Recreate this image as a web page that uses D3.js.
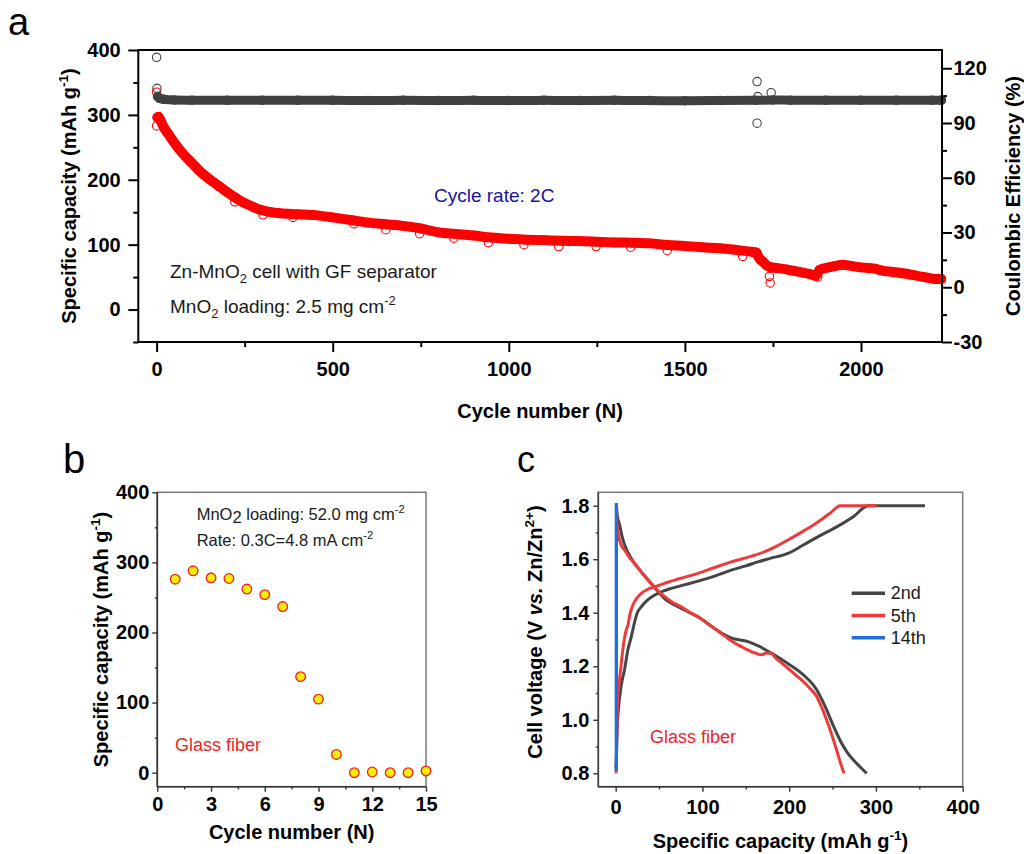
<!DOCTYPE html>
<html>
<head>
<meta charset="utf-8">
<title>Zn-MnO2 cell with GF separator</title>
<style>
body { margin: 0; background: #fff; }
svg text { font-family: "Liberation Sans", Arial, sans-serif; }
</style>
<script src="https://cdn.jsdelivr.net/npm/d3@7/dist/d3.min.js"></script>
</head>
<body>
<svg id="fig" width="1024" height="854"></svg>
<script>
// ---- panel a: long cycling at 2C ----
var capCycles = [2, 5, 10, 20, 30, 45, 60, 80, 100, 125, 150, 175, 200, 225, 250, 275, 300, 325, 350, 400, 450, 500, 550, 600, 650, 700, 750, 800, 850, 900, 950, 1000, 1050, 1100, 1150, 1200, 1250, 1300, 1350, 1400, 1450, 1500, 1550, 1600, 1650, 1690, 1702, 1710, 1721, 1730, 1740, 1760, 1787, 1810, 1834, 1855, 1872, 1882, 1900, 1925, 1948, 1975, 2000, 2024, 2040, 2060, 2090, 2118, 2150, 2180, 2213, 2228];
var capValues = [296, 297, 293, 281, 273, 261, 250, 237, 226, 212, 201, 191, 181, 172, 164, 158, 153, 150, 148.5, 147, 145.5, 142, 138, 134, 131.5, 129, 125, 119, 116.5, 114, 111, 109, 107.5, 107, 106, 105.5, 104.5, 103.5, 103, 102, 99.5, 98, 96, 94.5, 91.5, 89, 88, 80, 74, 69, 66, 64, 62, 59.5, 57, 54.5, 52, 61, 64, 67, 69, 67, 65, 64, 63, 60, 58, 56, 53, 50, 47, 47];
var capDipCycles = [0, 0, 222, 302, 387, 561, 651, 747, 844, 942, 1043, 1142, 1248, 1346, 1450, 1664, 1704, 1714, 1740, 1742, 1877, 2228];
var capDipValues = [283, 335, 166, 146, 142, 132, 123, 117, 110, 103, 100, 97, 97, 96, 91, 82, 88, 76, 51, 41, 50, 47];
var ceCycles = [3, 8, 20, 50, 100, 200, 300, 400, 500, 600, 700, 800, 900, 1000, 1100, 1200, 1300, 1400, 1500, 1600, 1700, 1750, 1800, 1900, 2000, 2100, 2200, 2228];
var ceValues = [104.5, 103.5, 103, 102.6, 102.5, 102.4, 102.5, 102.4, 102.4, 102.3, 102.4, 102.3, 102.4, 102.3, 102.4, 102.3, 102.4, 102.3, 102.2, 102.3, 102.4, 102.6, 102.5, 102.4, 102.5, 102.4, 102.5, 102.5];
var ceOddCycles = [0, 1, 1705, 1705, 1707, 1745, 2228];
var ceOddValues = [126, 109, 112.7, 89.9, 104.5, 106.6, 102.5];
var aXTicks = [0, 500, 1000, 1500, 2000];
var aXMinor = [250, 750, 1250, 1750];
var aYTicks = [0, 100, 200, 300, 400];
var aYMinor = [-50, 50, 150, 250, 350];
var aY2Ticks = [-30, 0, 30, 60, 90, 120];
var aY2Minor = [-15, 15, 45, 75, 105];

// ---- panel b: high loading ----
var bCycles = [1, 2, 3, 4, 5, 6, 7, 8, 9, 10, 11, 12, 13, 14, 15];
var bCapacity = [276, 288, 278, 277, 262, 254, 237, 137, 105, 26, 0, 1, 0, 0, 2.5];
var bXTicks = [0, 3, 6, 9, 12, 15];
var bXMinor = [1.5, 4.5, 7.5, 10.5, 13.5];
var bYTicks = [0, 100, 200, 300, 400];
var bYMinor = [50, 150, 250, 350];

// ---- panel c: voltage profiles [capacity, voltage] ----
var charge2nd = [[0.5, 0.82], [1.5, 0.95], [3.5, 1.05], [6, 1.12], [10.4, 1.19], [14, 1.26], [18, 1.31], [21.9, 1.366], [25, 1.4], [29.5, 1.422], [36, 1.445], [45, 1.466], [54, 1.48], [64, 1.491], [80, 1.505], [94.9, 1.518], [115, 1.538], [133.3, 1.559], [150, 1.575], [164, 1.59], [178, 1.603], [198.6, 1.622], [216.3, 1.653], [235, 1.687], [254.7, 1.721], [273.9, 1.759], [291.2, 1.8], [356.5, 1.8]];
var discharge2nd = [[0.9, 1.8], [2, 1.76], [4.6, 1.728], [7, 1.69], [10.4, 1.653], [18, 1.603], [29.5, 1.553], [41, 1.509], [56.5, 1.453], [75.6, 1.416], [94.9, 1.385], [114, 1.341], [125.6, 1.317], [133, 1.306], [152.5, 1.292], [165, 1.275], [179.4, 1.249], [190, 1.228], [200.9, 1.205], [216.3, 1.168], [231.7, 1.112], [237, 1.08], [243.2, 1.037], [248, 1.0], [254.8, 0.95], [260, 0.915], [266.3, 0.881], [272, 0.857], [277.8, 0.837], [283, 0.82], [289.3, 0.8]];
var charge5th = [[0.5, 0.8], [1.5, 0.95], [2.7, 1.087], [4.5, 1.15], [6.5, 1.211], [9, 1.28], [12.2, 1.336], [14.2, 1.354], [16.5, 1.395], [19.9, 1.429], [24, 1.453], [29.5, 1.472], [36, 1.486], [45, 1.497], [55, 1.508], [68, 1.522], [80, 1.533], [94.9, 1.547], [115, 1.57], [133.3, 1.59], [150, 1.605], [171.8, 1.628], [185, 1.648], [198.6, 1.672], [216.3, 1.705], [228, 1.728], [239.3, 1.753], [248, 1.774], [258.6, 1.8], [300.9, 1.8]];
var discharge5th = [[0.7, 1.8], [1.5, 1.74], [2.7, 1.7], [4.6, 1.67], [7, 1.648], [10.4, 1.634], [15, 1.61], [21.9, 1.584], [30, 1.55], [37.2, 1.522], [46, 1.49], [56.5, 1.46], [65, 1.44], [75.6, 1.422], [85, 1.402], [94.9, 1.385], [105, 1.362], [114, 1.341], [122, 1.322], [129.5, 1.304], [135, 1.292], [141, 1.28], [148, 1.268], [156.4, 1.255], [162, 1.248], [168, 1.243], [174, 1.25], [179.4, 1.249], [184, 1.232], [189, 1.218], [194, 1.205], [200.9, 1.186], [208, 1.166], [216.3, 1.143], [224, 1.117], [231.7, 1.087], [237, 1.05], [243.2, 0.999], [249, 0.945], [254.7, 0.887], [259, 0.84], [263.2, 0.8]];
var charge14th = [[0.6, 0.81], [0.8, 1.81]];
var discharge14th = [[0.8, 1.81], [1.0, 0.81]];
var cXTicks = [0, 100, 200, 300, 400];
var cXMinor = [50, 150, 250, 350];
var cYTicks = [0.8, 1.0, 1.2, 1.4, 1.6, 1.8];
var cYMinor = [0.9, 1.1, 1.3, 1.5, 1.7];
var cLegend = ["2nd", "5th", "14th"];

var svg = d3.select("#fig");

function styleAxis(g, w, col) {
	g.select(".domain").remove();
	g.attr("font-size", 20).attr("font-family", null).attr("font-weight", "bold");
	g.selectAll(".tick line").attr("stroke", col).attr("stroke-width", w);
	g.selectAll(".tick text").attr("fill", "#000");
}

function addText(parent, x, y, size, parts, opts) {
	// parts: [text, kind] where kind is "", "sub", "sup", "low", "it"
	var t = parent.append("text").attr("x", x).attr("y", y).attr("font-size", size);
	opts = opts || {};
	if (opts.fill) t.attr("fill", opts.fill);
	if (opts.bold) t.attr("font-weight", "bold");
	if (opts.anchor) t.attr("text-anchor", opts.anchor);
	if (opts.transform) t.attr("transform", opts.transform);
	parts.forEach(function (p) {
		var s = t.append("tspan").text(p[0]);
		if (p[1] == "sub") s.attr("font-size", size * 0.68).attr("dy", size * 0.28);
		if (p[1] == "sup") s.attr("font-size", size * 0.68).attr("dy", -size * 0.42);
		if (p[1] == "low") s.attr("dy", size * 0.2);
		if (p[1] == "it") s.attr("font-style", "italic");
		if (p[1] == "sub" || p[1] == "low") p.back = -(p[1] == "sub" ? size * 0.28 : size * 0.2);
		if (p[1] == "sup") p.back = size * 0.42;
	});
	// reset baseline after shifted parts
	var spans = t.selectAll("tspan").nodes();
	parts.forEach(function (p, i) {
		if (p.back && spans[i + 1]) d3.select(spans[i + 1]).attr("dy", p.back);
	});
	return t;
}

// ================= panel a =================
var xA = d3.scaleLinear().domain([-52, 2230]).range([138.3, 942]);
var yA = d3.scaleLinear().domain([-50, 400]).range([342, 50]);
var yA2 = d3.scaleLinear().domain([-30, 130]).range([342, 50]);
var pa = svg.append("g");

var capPts = capCycles.map(function (c, i) { return [c, capValues[i]]; });
var cePts = ceCycles.map(function (c, i) { return [c, ceValues[i]]; });

pa.append("path").datum(capPts)
	.attr("d", d3.line().x(function (d) { return xA(d[0]); }).y(function (d) { return yA(d[1]); }).curve(d3.curveMonotoneX))
	.attr("fill", "none").attr("stroke", "#ff0000").attr("stroke-width", 10)
	.attr("stroke-linejoin", "round").attr("stroke-linecap", "round");
pa.selectAll(".capdot").data(capPts.concat(capDipCycles.map(function (c, i) { return [c, capDipValues[i]]; })))
	.enter().append("circle")
	.attr("cx", function (d) { return xA(d[0]); }).attr("cy", function (d) { return yA(d[1]); })
	.attr("r", 4.2).attr("fill", "none").attr("stroke", "#ff0000").attr("stroke-width", 1.1);

pa.append("path").datum(cePts)
	.attr("d", d3.line().x(function (d) { return xA(d[0]); }).y(function (d) { return yA2(d[1]); }).curve(d3.curveMonotoneX))
	.attr("fill", "none").attr("stroke", "#404040").attr("stroke-width", 9)
	.attr("stroke-linejoin", "round").attr("stroke-linecap", "round");
pa.selectAll(".cedot").data(cePts.concat(ceOddCycles.map(function (c, i) { return [c, ceOddValues[i]]; })))
	.enter().append("circle")
	.attr("cx", function (d) { return xA(d[0]); }).attr("cy", function (d) { return yA2(d[1]); })
	.attr("r", 4.2).attr("fill", "none").attr("stroke", "#404040").attr("stroke-width", 1.1);

var ax;
ax = pa.append("g").attr("transform", "translate(0,342)")
	.call(d3.axisBottom(xA).tickValues(aXTicks).tickSize(10).tickPadding(9.5).tickFormat(function (d) { return String(d); }));
styleAxis(ax, 2, "#000");
ax = pa.append("g").attr("transform", "translate(0,342)")
	.call(d3.axisBottom(xA).tickValues(aXMinor).tickSize(5).tickFormat(""));
styleAxis(ax, 2, "#000");
ax = pa.append("g").attr("transform", "translate(138.3,0)")
	.call(d3.axisLeft(yA).tickValues(aYTicks).tickSize(10).tickPadding(7.6).tickFormat(function (d) { return String(d); }));
styleAxis(ax, 2, "#000");
ax = pa.append("g").attr("transform", "translate(138.3,0)")
	.call(d3.axisLeft(yA).tickValues(aYMinor).tickSize(5).tickFormat(""));
styleAxis(ax, 2, "#000");
ax = pa.append("g").attr("transform", "translate(942,0)")
	.call(d3.axisRight(yA2).tickValues(aY2Ticks).tickSize(10).tickPadding(1.5).tickFormat(function (d) { return String(d); }));
styleAxis(ax, 2, "#000");
ax = pa.append("g").attr("transform", "translate(942,0)")
	.call(d3.axisRight(yA2).tickValues(aY2Minor).tickSize(5).tickFormat(""));
styleAxis(ax, 2, "#000");

pa.append("rect").attr("x", 138.3).attr("y", 50).attr("width", 803.7).attr("height", 292)
	.attr("fill", "none").attr("stroke", "#000").attr("stroke-width", 2);

addText(pa, 8, 35, 38, [["a", ""]]);
addText(pa, 0, 0, 20, [["Specific capacity (mAh g", ""], ["-1", "sup"], [")", ""]], { bold: true, anchor: "middle", transform: "translate(76,196) rotate(-90)" });
addText(pa, 0, 0, 20, [["Coulombic Efficiency (%)", ""]], { bold: true, anchor: "middle", transform: "translate(1020,196) rotate(-90)" });
addText(pa, 540, 418, 20, [["Cycle number (N)", ""]], { bold: true, anchor: "middle" });
addText(pa, 434, 201.7, 19, [["Cycle rate: 2C", ""]], { fill: "#1414a0" });
addText(pa, 170, 278, 19, [["Zn-MnO", ""], ["2", "sub"], [" cell with GF separator", ""]], { fill: "#1a1a1a" });
addText(pa, 170, 313, 19, [["MnO", ""], ["2", "sub"], [" loading: 2.5 mg cm", ""], ["-2", "sup"]], { fill: "#1a1a1a" });

// ================= panel b =================
var xB = d3.scaleLinear().domain([0, 15]).range([157.3, 426]);
var yB = d3.scaleLinear().domain([-20, 400]).range([786.7, 492.3]);
var pb = svg.append("g");

pb.append("rect").attr("x", 157.3).attr("y", 492.3).attr("width", 268.7).attr("height", 294.4)
	.attr("fill", "none").attr("stroke", "#808080").attr("stroke-width", 1.6);
ax = pb.append("g").attr("transform", "translate(0,786.7)")
	.call(d3.axisBottom(xB).tickValues(bXTicks).tickSize(5).tickPadding(4.8).tickFormat(function (d) { return String(d); }));
styleAxis(ax, 1.4, "#333");
ax = pb.append("g").attr("transform", "translate(0,786.7)")
	.call(d3.axisBottom(xB).tickValues(bXMinor).tickSize(2.7).tickFormat(""));
styleAxis(ax, 1.4, "#333");
ax = pb.append("g").attr("transform", "translate(157.3,0)")
	.call(d3.axisLeft(yB).tickValues(bYTicks).tickSize(5).tickPadding(3).tickFormat(function (d) { return String(d); }));
styleAxis(ax, 1.4, "#333");
ax = pb.append("g").attr("transform", "translate(157.3,0)")
	.call(d3.axisLeft(yB).tickValues(bYMinor).tickSize(2.5).tickFormat(""));
styleAxis(ax, 1.4, "#333");
pb.append("line").attr("x1", 157.3).attr("x2", 157.3).attr("y1", 492.3).attr("y2", 786.7).attr("stroke", "#333").attr("stroke-width", 1.6);
pb.append("line").attr("x1", 157.3).attr("x2", 426).attr("y1", 786.7).attr("y2", 786.7).attr("stroke", "#333").attr("stroke-width", 1.6);

pb.selectAll(".bdot").data(bCycles).enter().append("circle")
	.attr("cx", function (d) { return xB(d); })
	.attr("cy", function (d, i) { return yB(bCapacity[i]); })
	.attr("r", 4.8).attr("fill", "#ffee00").attr("stroke", "#f02020").attr("stroke-width", 1.3);

addText(pb, 63, 473, 40, [["b", ""]]);
addText(pb, 0, 0, 20, [["Specific capacity (mAh g", ""], ["-1", "sup"], [")", ""]], { bold: true, anchor: "middle", transform: "translate(108,639.5) rotate(-90)" });
addText(pb, 291.7, 839.3, 20, [["Cycle number (N)", ""]], { bold: true, anchor: "middle" });
addText(pb, 196.7, 520, 16.5, [["MnO", ""], ["2", "low"], [" loading: 52.0 mg cm", ""], ["-2", "sup"]], { fill: "#1a1a1a" });
addText(pb, 196.7, 546, 16.5, [["Rate: 0.3C=4.8 mA cm", ""], ["-2", "sup"]], { fill: "#1a1a1a" });
addText(pb, 175, 750.7, 18, [["Glass fiber", ""]], { fill: "#f01e1e" });

// ================= panel c =================
var xC = d3.scaleLinear().domain([-20, 400]).range([598.3, 962.7]);
var yC = d3.scaleLinear().domain([0.75, 1.85]).range([786.7, 492.3]);
var pc = svg.append("g");

pc.append("rect").attr("x", 598.3).attr("y", 492.3).attr("width", 364.4).attr("height", 294.4)
	.attr("fill", "none").attr("stroke", "#808080").attr("stroke-width", 1.6);
ax = pc.append("g").attr("transform", "translate(0,786.7)")
	.call(d3.axisBottom(xC).tickValues(cXTicks).tickSize(5).tickPadding(8).tickFormat(function (d) { return String(d); }));
styleAxis(ax, 1.4, "#333");
ax = pc.append("g").attr("transform", "translate(0,786.7)")
	.call(d3.axisBottom(xC).tickValues(cXMinor).tickSize(2.7).tickFormat(""));
styleAxis(ax, 1.4, "#333");
ax = pc.append("g").attr("transform", "translate(598.3,0)")
	.call(d3.axisLeft(yC).tickValues(cYTicks).tickSize(5).tickPadding(4).tickFormat(function (d) { return d.toFixed(1); }));
styleAxis(ax, 1.4, "#333");
ax = pc.append("g").attr("transform", "translate(598.3,0)")
	.call(d3.axisLeft(yC).tickValues(cYMinor).tickSize(2.5).tickFormat(""));
styleAxis(ax, 1.4, "#333");
pc.append("line").attr("x1", 598.3).attr("x2", 598.3).attr("y1", 492.3).attr("y2", 786.7).attr("stroke", "#444").attr("stroke-width", 1.6);
pc.append("line").attr("x1", 598.3).attr("x2", 962.7).attr("y1", 786.7).attr("y2", 786.7).attr("stroke", "#333").attr("stroke-width", 1.6);

var lineC = d3.line().x(function (d) { return xC(d[0]); }).y(function (d) { return yC(d[1]); }).curve(d3.curveMonotoneX);
var cColors = ["#454545", "#ee3a3a", "#1f6fdc"];
var cSeries = [[charge2nd, discharge2nd], [charge5th, discharge5th], [charge14th, discharge14th]];
cSeries.forEach(function (pair, k) {
	pair.forEach(function (s) {
		pc.append("path").datum(s).attr("d", lineC)
			.attr("fill", "none").attr("stroke", cColors[k]).attr("stroke-width", 3)
			.attr("stroke-linejoin", "round");
	});
});

cLegend.forEach(function (name, k) {
	var ly = 593.3 + k * 22.2;
	pc.append("line").attr("x1", 851.7).attr("x2", 885).attr("y1", ly).attr("y2", ly)
		.attr("stroke", cColors[k]).attr("stroke-width", 3.4);
	addText(pc, 890.7, ly + 6, 18, [[name, ""]], { fill: "#1a1a1a" });
});

addText(pc, 517, 472, 36, [["c", ""]]);
addText(pc, 0, 0, 20, [["Cell voltage (V ", ""], ["vs.", "it"], [" Zn/Zn", ""], ["2+", "sup"], [")", ""]], { bold: true, anchor: "middle", transform: "translate(542,632) rotate(-90)" });
addText(pc, 780.5, 848, 20, [["Specific capacity (mAh g", ""], ["-1", "sup"], [")", ""]], { bold: true, anchor: "middle" });
addText(pc, 650, 742.7, 18, [["Glass fiber", ""]], { fill: "#f01e1e" });
</script>
</body>
</html>
